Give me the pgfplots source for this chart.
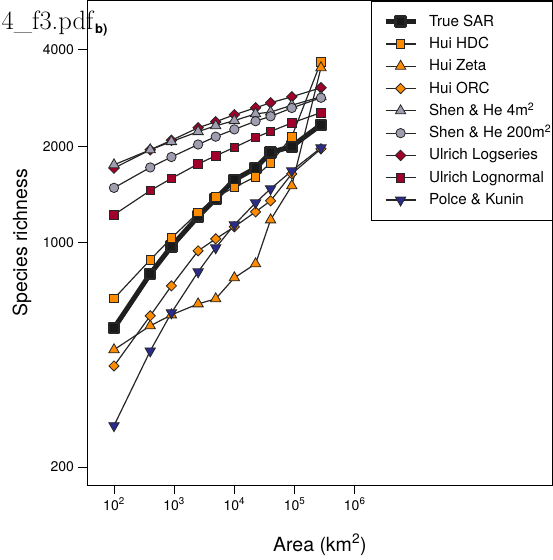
\documentclass[border=0pt]{standalone}
\usepackage{pgfplots}
\pgfplotsset{compat=1.18}
\usepackage{fontspec}
\newfontfamily\helv{TeX Gyre Heros}

\definecolor{edge}{HTML}{262626}
\definecolor{huiorange}{HTML}{FF8C00}
\definecolor{shengrey}{HTML}{9E9EB0}
\definecolor{ulrred}{HTML}{A0002A}
\definecolor{polblue}{HTML}{2B2B8C}

\pgfplotsset{
  sar/.style={draw=black!88, line width=5pt, line join=round, mark=square*, mark size=5pt,
    mark options={solid, line width=2.5pt, line join=round, draw=black!85, fill=black!90}},
  hdc/.style={draw=edge, line width=1.2pt, mark=square*, mark size=4.3pt,
    mark options={solid, line width=0.8pt, draw=edge, fill=huiorange}},
  zeta/.style={draw=edge, line width=1.2pt, mark=triangle*, mark size=6pt,
    mark options={solid, line width=0.8pt, draw=edge, fill=huiorange}},
  orc/.style={draw=edge, line width=1.2pt, mark=square*, mark size=3.6pt,
    mark options={solid, rotate=45, line width=0.8pt, draw=edge, fill=huiorange}},
  shenfour/.style={draw=edge, line width=1.2pt, mark=triangle*, mark size=6pt,
    mark options={solid, line width=0.8pt, draw=edge, fill=shengrey}},
  shentwo/.style={draw=edge, line width=1.2pt, mark=*, mark size=4.7pt,
    mark options={solid, line width=0.8pt, draw=edge, fill=shengrey}},
  logser/.style={draw=edge, line width=1.2pt, mark=square*, mark size=3.7pt,
    mark options={solid, rotate=45, line width=0.8pt, draw=edge, fill=ulrred}},
  lognorm/.style={draw=edge, line width=1.2pt, mark=square*, mark size=4.3pt,
    mark options={solid, line width=0.8pt, draw=edge, fill=ulrred}},
  polce/.style={draw=edge, line width=1.2pt, mark=triangle*, mark size=6pt,
    mark options={solid, rotate=180, line width=0.8pt, draw=edge, fill=polblue}},
}

\begin{document}
\begin{tikzpicture}[font=\helv]
\useasboundingbox (0,0) rectangle (553pt,560pt);
\begin{axis}[
  scale only axis,
  width=465.7pt, height=484.3pt,
  at={(87pt,75pt)}, anchor=south west,
  xmode=log, ymode=log,
  xmin=35.6, xmax=1.95e9,
  ymin=175.7, ymax=5690,
  xtick={1e2,1e3,1e4,1e5,1e6},
  xticklabels={10\textsuperscript{2},10\textsuperscript{3},10\textsuperscript{4},10\textsuperscript{5},10\textsuperscript{6}},
  ytick={200,1000,2000,4000},
  yticklabels={200,1000,2000,4000},
  xminorticks=false, yminorticks=false,
  tick align=outside, tick pos=left,
  major tick length=9.5pt,
  axis line style={line width=0.9pt},
  every tick/.style={line width=0.9pt, black},
  tick label style={font=\helv\fontsize{14}{16}\selectfont},
  xlabel={Area (km\textsuperscript{2})},
  ylabel={Species richness},
  label style={font=\helv\fontsize{19.5}{22}\selectfont},
  xlabel style={at={(axis description cs:0.5,-0.137)}, anchor=base},
  ylabel style={at={(axis description cs:-0.1288,0.5)}, anchor=base},
  legend cell align=left,
  legend style={at={(1,1)}, anchor=north east, draw=black, line width=0.9pt,
    inner xsep=1pt, inner ysep=13pt, row sep=7.3pt, column sep=11pt,
    font=\helv\fontsize{15.2}{18}\selectfont,
    nodes={inner xsep=0pt, inner ysep=0pt, text height=12pt, text depth=3pt}},
  legend image code/.code={
    \path (0pt,0pt) (41pt,0pt);
    \draw[mark repeat=2, mark phase=2, #1] plot coordinates {(11pt,0pt) (26pt,0pt) (41pt,0pt)};
  },
]

% True SAR
\addplot[sar, forget plot] coordinates {
  (100,542) (400,800) (900,974) (2500,1208) (4900,1372)
  (10000,1572) (22500,1710) (40000,1913) (90000,1998) (275000,2334)
};
% Hui HDC
\addplot[hdc, forget plot] coordinates {
  (100,670) (400,885) (900,1035) (2500,1243) (4900,1390)
  (10000,1488) (22500,1608) (40000,1775) (90000,2143) (275000,3669)
};
% Hui Zeta
\addplot[zeta, forget plot] coordinates {
  (100,464) (400,551) (900,596) (2500,645) (4900,669)
  (10000,778) (22500,860) (40000,1179) (90000,1506) (275000,3516)
};
% Hui ORC
\addplot[orc, forget plot] coordinates {
  (100,413) (400,592) (900,734) (2500,944) (4900,1029)
  (10000,1122) (22500,1249) (40000,1352) (90000,1641) (275000,1964)
};
% Ulrich Logseries
\addplot[logser, forget plot] coordinates {
  (100,1710) (400,1950) (900,2088) (2500,2284) (4900,2385)
  (10000,2508) (22500,2637) (40000,2733) (90000,2854) (275000,3045)
};
% Ulrich Lognormal
\addplot[lognorm, forget plot] coordinates {
  (100,1223) (400,1455) (900,1588) (2500,1762) (4900,1868)
  (10000,1984) (22500,2131) (40000,2225) (90000,2365) (275000,2547)
};
% Shen & He 4m2
\addplot[shenfour, forget plot] coordinates {
  (100,1751) (400,1950) (900,2068) (2500,2222) (4900,2317)
  (10000,2405) (22500,2525) (40000,2557) (90000,2686) (275000,2854)
};
% Shen & He 200m2
\addplot[shentwo, forget plot] coordinates {
  (100,1484) (400,1718) (900,1852) (2500,2026) (4900,2143)
  (10000,2258) (22500,2395) (40000,2480) (90000,2633) (275000,2834)
};
% Polce & Kunin
\addplot[polce, forget plot] coordinates {
  (100,269) (400,460) (900,605) (2500,812) (4900,965)
  (10000,1138) (22500,1333) (40000,1474) (90000,1677) (275000,1979)
};

\addlegendimage{sar}
\addlegendentry{True SAR}
\addlegendimage{hdc}
\addlegendentry{Hui HDC}
\addlegendimage{zeta}
\addlegendentry{Hui Zeta}
\addlegendimage{orc}
\addlegendentry{Hui ORC}
\addlegendimage{shenfour}
\addlegendentry{Shen \& He 4m\textsuperscript{2}}
\addlegendimage{shentwo}
\addlegendentry{Shen \& He 200m\textsuperscript{2}}
\addlegendimage{logser}
\addlegendentry{Ulrich Logseries}
\addlegendimage{lognorm}
\addlegendentry{Ulrich Lognormal}
\addlegendimage{polce}
\addlegendentry{Polce \& Kunin}
\end{axis}

\node[anchor=base west, inner sep=0pt, font=\rmfamily\fontsize{26.5}{30}\selectfont] at (1.5pt,530pt) {4\_f3.pdf};
\node[anchor=base west, inner sep=0pt, font=\helv\bfseries\fontsize{13}{15}\selectfont] at (95pt,526pt) {b)};
\end{tikzpicture}
\end{document}
